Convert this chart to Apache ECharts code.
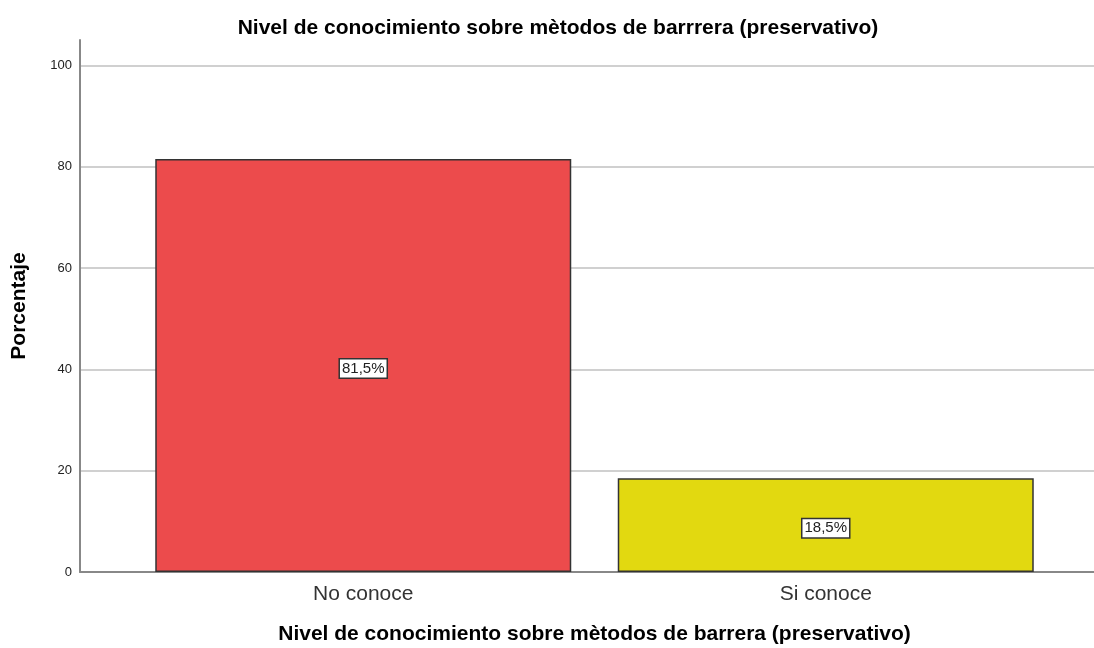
<!DOCTYPE html>
<html>
<head>
<meta charset="utf-8">
<script src="https://cdn.jsdelivr.net/npm/echarts@6/dist/echarts.min.js"></script>
<style>
  html, body { margin: 0; padding: 0; background: #fff; }
  #chart { width: 1094px; height: 648px; }
</style>
</head>
<body>
<div id="chart"></div>
<script>
// datos del grafico
const categorias = ['No conoce', 'Si conoce']
const porcentajes = [81.5, 18.5]
const colores = ['#EC4B4C', '#E2D910']
const ticksY = [0, 20, 40, 60, 80, 100]

const chart = echarts.init(document.getElementById('chart'))

chart.setOption({
  animation: false,
  textStyle: { fontFamily: 'Liberation Sans, Arial, sans-serif' },
  title: {
    text: 'Nivel de conocimiento sobre mètodos de barrrera (preservativo)',
    left: 553,
    textAlign: 'center',
    top: 13,
    textStyle: { fontSize: 21, fontWeight: 'bold', color: '#000' }
  },
  grid: [
    { left: 80, right: 0, top: 40, bottom: 76, outerBoundsMode: 'none' },
    { left: 132, right: 37, top: 40, bottom: 76, outerBoundsMode: 'none' }
  ],
  xAxis: [
    {
      gridIndex: 0,
      type: 'category',
      data: categorias,
      axisLine: { lineStyle: { color: '#888', width: 2 } },
      axisTick: { show: false },
      axisLabel: { show: false }
    },
    {
      gridIndex: 1,
      type: 'category',
      data: categorias,
      axisLine: { show: false },
      axisTick: { show: false },
      axisLabel: { fontSize: 21, color: '#333', margin: 12 },
      name: 'Nivel de conocimiento sobre mètodos de barrera (preservativo)',
      nameLocation: 'middle',
      nameGap: 52,
      nameTextStyle: { fontSize: 21, fontWeight: 'bold', color: '#000' }
    }
  ],
  yAxis: [
    {
      gridIndex: 0,
      type: 'value',
      min: 0,
      max: 105,
      interval: 20,
      axisLine: { show: true, lineStyle: { color: '#888', width: 2 } },
      axisTick: { show: false },
      axisLabel: {
        fontSize: 13,
        color: '#222',
        margin: 8,
        formatter: v => (ticksY.indexOf(v) >= 0 ? v : '')
      },
      splitLine: { showMaxLine: false, lineStyle: { color: '#d0d0d0', width: 2 } },
      name: 'Porcentaje',
      nameLocation: 'middle',
      nameGap: 50,
      nameRotate: 90,
      nameTextStyle: { fontSize: 21, fontWeight: 'bold', color: '#000' }
    },
    {
      gridIndex: 1,
      type: 'value',
      min: 0,
      max: 105,
      show: false
    }
  ],
  series: [
    {
      type: 'bar',
      xAxisIndex: 1,
      yAxisIndex: 1,
      barWidth: 416,
      data: porcentajes.map((v, i) => ({
        value: v,
        itemStyle: { color: colores[i], borderColor: '#333', borderWidth: 1.5 }
      })),
      label: {
        show: true,
        position: 'inside',
        offset: [0, 3],
        formatter: p => p.value.toFixed(1).replace('.', ',') + '%',
        fontSize: 15,
        color: '#222',
        backgroundColor: '#fff',
        borderColor: '#333',
        borderWidth: 1.5,
        padding: [2, 2, 1, 2]
      }
    }
  ]
})
</script>
</body>
</html>
